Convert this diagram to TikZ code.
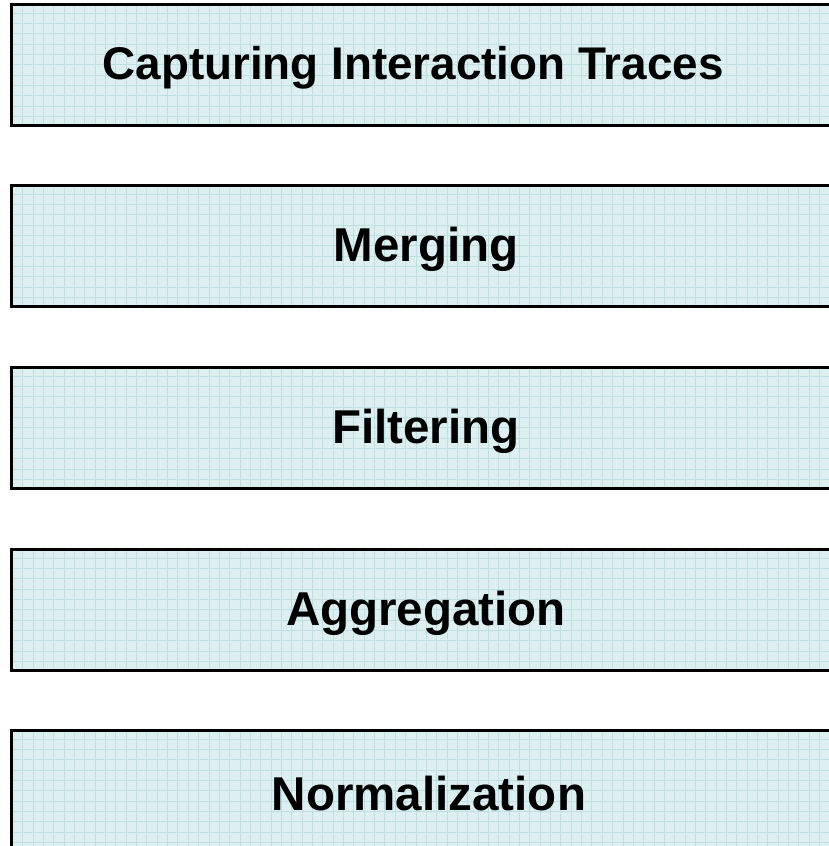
\documentclass[tikz,border=0pt]{standalone}
\usepackage{fontspec}
\setmainfont{Liberation Sans}
\definecolor{stagefill}{HTML}{DDEFF1}
\definecolor{stagegrid}{HTML}{BFE0E3}
\begin{document}
\begin{tikzpicture}[
  stagebox/.style={
    rectangle, anchor=north west, inner sep=0pt,
    minimum width=830pt, minimum height=121pt,
    fill=stagefill, draw=black, line width=2.6pt,
    path picture={
      \draw[stagegrid, line width=0.9pt]
        (path picture bounding box.south west)
        grid[step=10.35pt]
        (path picture bounding box.north east);
    }
  },
  stagelabel/.style={
    font=\bfseries\fontsize{47.5}{52}\selectfont, text=black
  },
  headlabel/.style={
    font=\bfseries\fontsize{45.8}{50}\selectfont, text=black
  }
]
\useasboundingbox (0,0) rectangle (828pt,-846pt);

% the five processing stages
\node[stagebox] (s1) at (10pt,-3pt) {};
\node[stagebox] (s2) at (10pt,-184pt) {};
\node[stagebox] (s3) at (10pt,-366pt) {};
\node[stagebox] (s4) at (10pt,-548pt) {};
\node[stagebox] (s5) at (10pt,-729pt) {};

% stage titles
\node[headlabel] (t1) at (413pt,-68pt) {Capturing Interaction Traces};
\node[stagelabel] (t2) at (426pt,-249pt) {Merging};
\node[stagelabel] (t3) at (426pt,-431pt) {Filtering};
\node[stagelabel] (t4) at (426pt,-613pt) {Aggregation};
\node[stagelabel] (t5) at (429pt,-794pt) {Normalization};
\end{tikzpicture}
\end{document}
